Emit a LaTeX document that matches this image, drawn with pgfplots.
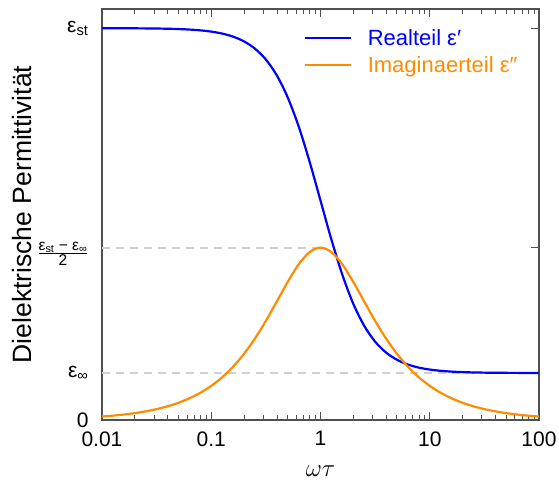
\documentclass[border=0pt]{standalone}
\usepackage{pgfplots}
\pgfplotsset{compat=1.18}
\usepackage{fontspec}
\setmainfont{Liberation Sans}
\definecolor{myorange}{RGB}{255,140,0}
\definecolor{myblue}{RGB}{0,0,255}
\definecolor{dashgray}{RGB}{208,208,208}
\definecolor{axgray}{RGB}{80,80,80}
\pgfplotstableread{
x real imag
0.01 0.99991 0.00880
0.012589 0.99986 0.01108
0.015849 0.99978 0.01394
0.019953 0.99965 0.01755
0.025119 0.99945 0.02209
0.031623 0.99912 0.02780
0.039811 0.99861 0.03498
0.050119 0.99779 0.04399
0.063096 0.99651 0.05530
0.079433 0.99448 0.06946
0.1 0.99129 0.08713
0.12589 0.98627 0.10906
0.15849 0.97844 0.13606
0.19953 0.96630 0.16886
0.25119 0.94777 0.20793
0.31623 0.92000 0.25298
0.39811 0.87961 0.30240
0.50119 0.82332 0.35250
0.63096 0.74942 0.39714
0.79433 0.65956 0.42859
1 0.56000 0.44000
1.2589 0.46044 0.42859
1.5849 0.37058 0.39714
1.9953 0.29668 0.35250
2.5119 0.24039 0.30240
3.1623 0.20000 0.25298
3.9811 0.17223 0.20793
5.0119 0.15370 0.16886
6.3096 0.14156 0.13606
7.9433 0.13373 0.10906
10 0.12871 0.08713
12.589 0.12552 0.06946
15.849 0.12349 0.05530
19.953 0.12221 0.04399
25.119 0.12139 0.03498
31.623 0.12088 0.02780
39.811 0.12055 0.02209
50.119 0.12035 0.01755
63.096 0.12022 0.01394
79.433 0.12014 0.01108
100 0.12009 0.00880
}\debye
\begin{document}
\begin{tikzpicture}
\useasboundingbox (-102pt,-61pt) rectangle (457pt,420pt);
\begin{axis}[
  at={(0pt,0pt)}, anchor=south west,
  scale only axis, width=437pt, height=411pt,
  xmode=log, xmin=0.01, xmax=100, ymin=0, ymax=1.049,
  xtick={0.01,0.1,1,10,100}, xticklabels={0.01,0.1,1,10,100},
  minor xtick={0.02,0.03,0.04,0.05,0.06,0.07,0.08,0.09,0.2,0.3,0.4,0.5,0.6,0.7,0.8,0.9,2,3,4,5,6,7,8,9,20,30,40,50,60,70,80,90},
  ytick={0,0.12,0.44,1},
  yticklabels={{0},{ε\textsubscript{∞}},{\raisebox{-11pt}[0pt][0pt]{$\frac{\mbox{\fontsize{15.5}{15.5}\selectfont ε\textsubscript{st} − ε\textsubscript{∞}}}{\mbox{\fontsize{15.5}{15.5}\selectfont 2}}$}},{ε\textsubscript{st}}},
  /pgf/number format/assume math mode=true,
  tick align=inside, major tick length=8pt, minor tick length=5pt,
  axis line style={axgray, line width=1.2pt},
  tick style={axgray, line width=1pt},
  ticklabel style={font=\fontsize{21}{24}\selectfont},
  xticklabel style={yshift=-8pt},
  yticklabel style={xshift=-10pt},
  xlabel={$\omega\tau$},
  xlabel style={font=\fontsize{23}{26}\selectfont, at={(axis description cs:0.5,-0.124)}, anchor=center},
  ylabel={Dielektrische Permittivität},
  ylabel style={font=\fontsize{26.5}{30}\selectfont, at={(axis description cs:-0.184,0.5)}, anchor=center},
  legend style={draw=none, fill=none, at={(axis description cs:0.454,0.96)}, anchor=north west,
    font=\fontsize{22}{25}\selectfont, row sep=5pt, cells={anchor=west},
    /tikz/every odd column/.append style={column sep=14pt}},
  legend image code/.code={\draw[#1] (0pt,0pt) -- (46pt,0pt);},
]
\addplot[dashgray, line width=1.8pt, dash pattern=on 8pt off 6pt, forget plot] coordinates {(0.01,0.44) (1,0.44)};
\addplot[dashgray, line width=1.8pt, dash pattern=on 8pt off 6pt, forget plot] coordinates {(0.01,0.12) (100,0.12)};
\addplot[myblue, line width=2.2pt, smooth] table[x=x, y=real] {\debye};
\addlegendentry{\textcolor{myblue}{Realteil ε′}}
\addplot[myorange, line width=2.2pt, smooth] table[x=x, y=imag] {\debye};
\addlegendentry{\textcolor{myorange}{Imaginaerteil ε″}}
\end{axis}
\end{tikzpicture}
\end{document}
